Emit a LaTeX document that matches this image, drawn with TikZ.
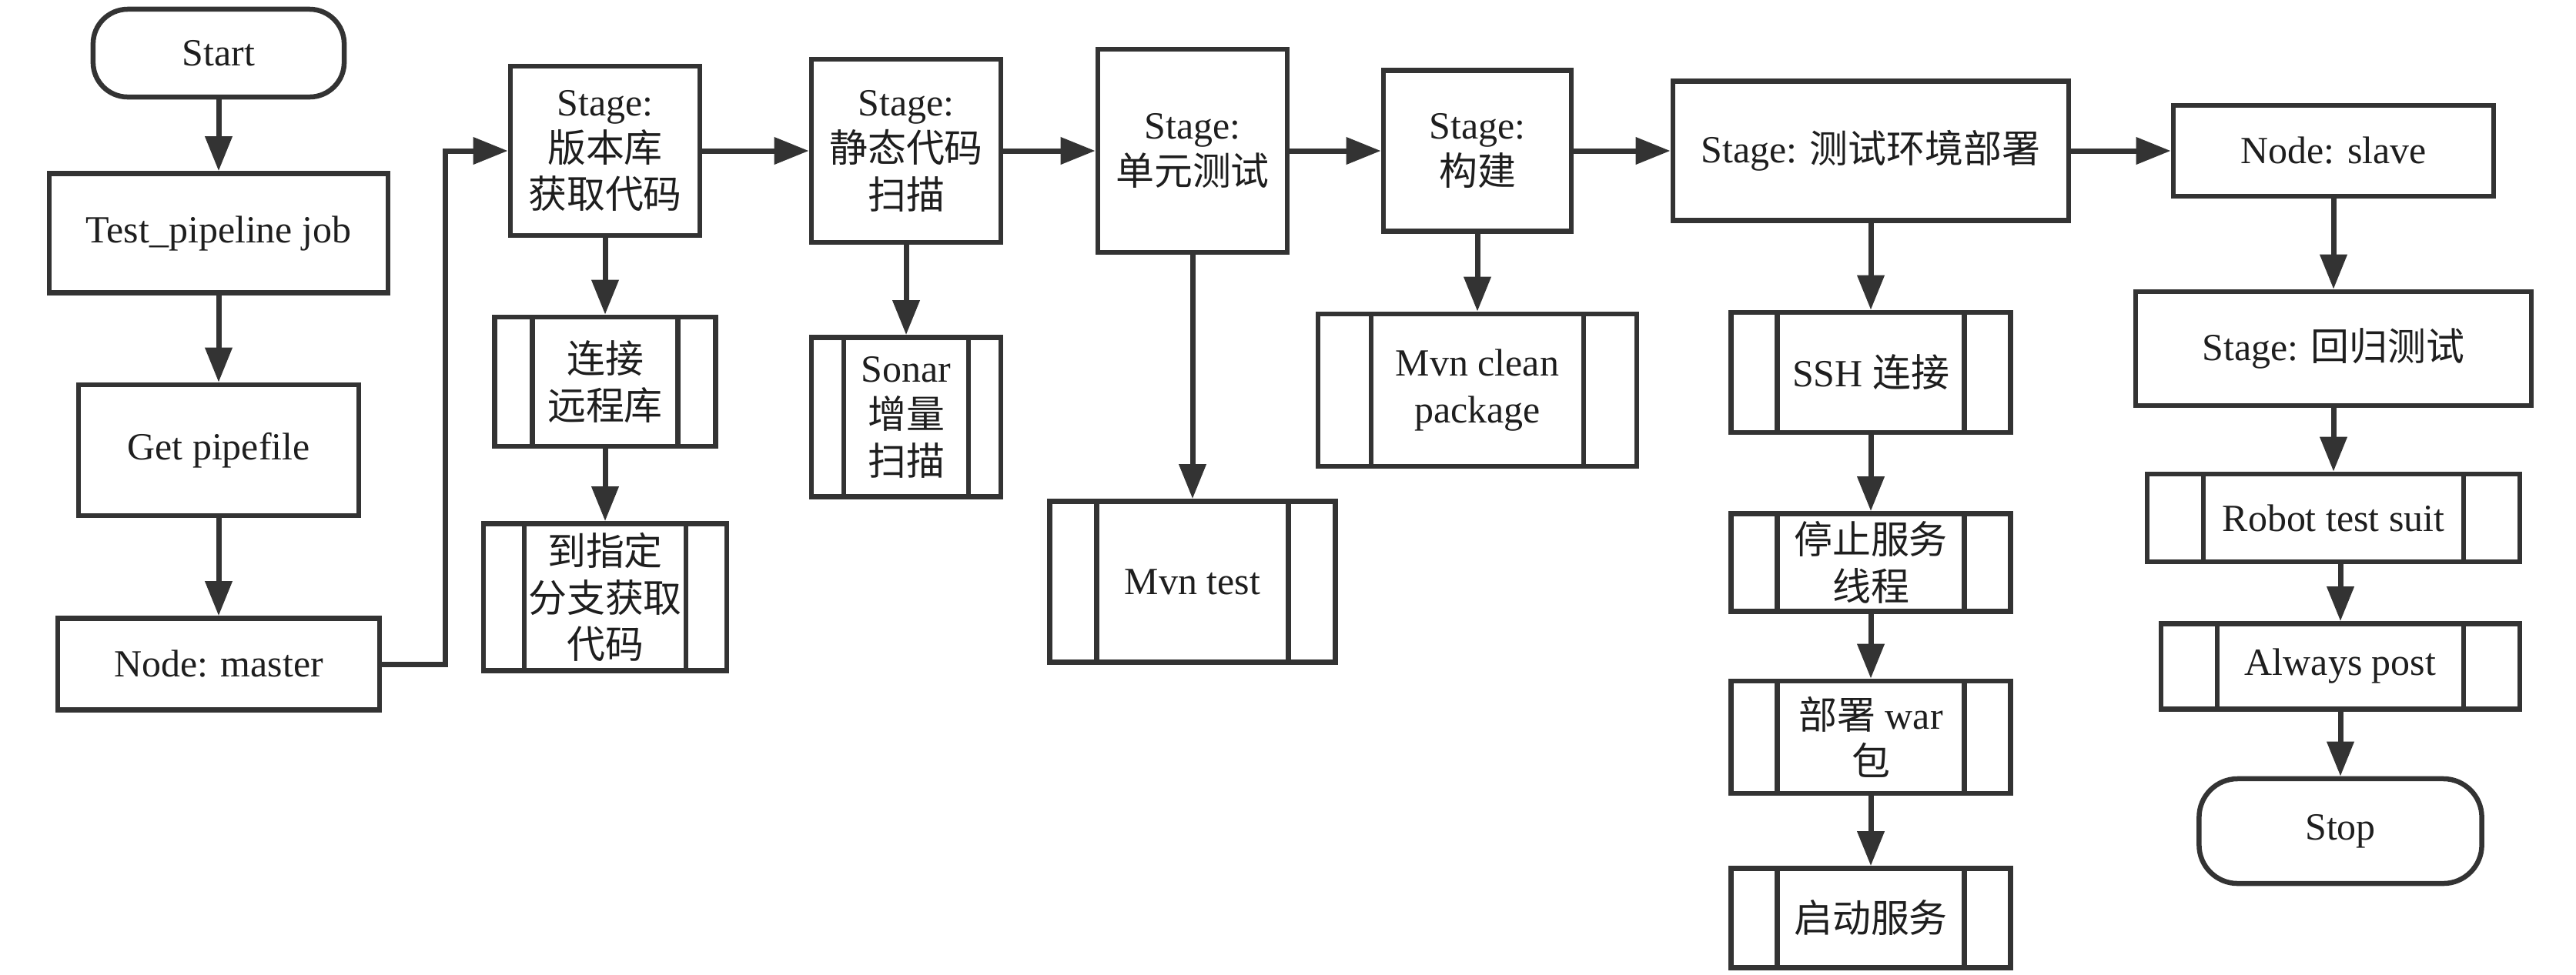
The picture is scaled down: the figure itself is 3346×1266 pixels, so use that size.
\documentclass[tikz,border=0pt]{standalone}
\usepackage{fontspec}
\setmainfont{Liberation Serif}
\newfontfamily\cjk{Noto Sans CJK SC}
\newcommand\zhs[1]{{\cjk #1}}
\usetikzlibrary{arrows.meta}
\definecolor{ln}{HTML}{333333}
\definecolor{tx}{HTML}{1E1E1E}
\begin{document}
\begin{tikzpicture}[x=0.01cm,y=-0.01cm,
  box/.style={draw=ln, line width=0.065cm, fill=white, align=center, inner sep=0pt, text=tx, font=\fontsize{14.2pt}{17.2pt}\selectfont},
  term/.style={box, rounded corners=0.45cm},
  subproc/.style={box, path picture={\draw[ln, line width=0.065cm] ([xshift=#1]path picture bounding box.north west) -- ([xshift=#1]path picture bounding box.south west) ([xshift=-#1]path picture bounding box.north east) -- ([xshift=-#1]path picture bounding box.south east);}},
  arr/.style={draw=ln, line width=0.07cm, -{Triangle[length=0.45cm,width=0.34cm]}}
]
\useasboundingbox (0,0) rectangle (3346,1266);

% left column
\node[term, minimum width=3.26cm, minimum height=1.14cm] (start) at (284,69) {Start};
\node[box, minimum width=4.4cm, minimum height=1.55cm] (test) at (284,303) {Test\_pipeline job};
\node[box, minimum width=3.64cm, minimum height=1.7cm] (get) at (284,585) {Get pipefile};
\node[box, minimum width=4.18cm, minimum height=1.19cm] (master) at (284,863) {Node: master};

% stage 1
\node[box, minimum width=2.46cm, minimum height=2.2cm] (s1) at (786,196) {Stage:\\\zhs{版本库}\\\zhs{获取代码}};
\node[subproc=0.49cm, minimum width=2.87cm, minimum height=1.68cm] (c1) at (786,496) {\zhs{连接}\\\zhs{远程库}};
\node[subproc=0.53cm, minimum width=3.16cm, minimum height=1.91cm] (c2) at (786,776) {\zhs{到指定}\\\zhs{分支获取}\\\zhs{代码}};

% stage 2
\node[box, minimum width=2.46cm, minimum height=2.38cm] (s2) at (1177,196) {Stage:\\\zhs{静态代码}\\\zhs{扫描}};
\node[subproc=0.42cm, minimum width=2.46cm, minimum height=2.07cm] (sonar) at (1177,542) {Sonar\\\zhs{增量}\\\zhs{扫描}};

% stage 3
\node[box, minimum width=2.46cm, minimum height=2.64cm] (s3) at (1549,196) {Stage:\\\zhs{单元测试}};
\node[subproc=0.61cm, minimum width=3.71cm, minimum height=2.09cm] (mvntest) at (1549,756) {Mvn test};

% stage 4
\node[box, minimum width=2.44cm, minimum height=2.09cm] (s4) at (1919,196) {Stage:\\\zhs{构建}};
\node[subproc=0.69cm, minimum width=4.14cm, minimum height=1.98cm] (mvnclean) at (1919,507) {Mvn clean\\package};

% stage 5
\node[box, minimum width=5.14cm, minimum height=1.81cm] (s5) at (2430,196) {Stage: \zhs{测试环境部署}};
\node[subproc=0.6cm, minimum width=3.63cm, minimum height=1.56cm] (ssh) at (2430,484) {SSH \zhs{连接}};
\node[subproc=0.6cm, minimum width=3.63cm, minimum height=1.27cm] (stopsvc) at (2430,731) {\zhs{停止服务}\\\zhs{线程}};
\node[subproc=0.6cm, minimum width=3.63cm, minimum height=1.46cm] (deploy) at (2430,958) {\zhs{部署} war\\\zhs{包}};
\node[subproc=0.6cm, minimum width=3.63cm, minimum height=1.29cm] (startsvc) at (2430,1193) {\zhs{启动服务}};

% slave column
\node[box, minimum width=4.16cm, minimum height=1.18cm] (slave) at (3031,196) {Node: slave};
\node[box, minimum width=5.14cm, minimum height=1.48cm] (reg) at (3031,453) {Stage: \zhs{回归测试}};
\node[subproc=0.73cm, minimum width=4.84cm, minimum height=1.14cm] (robot) at (3031,673) {Robot test suit};
\node[subproc=0.73cm, minimum width=4.66cm, minimum height=1.11cm] (always) at (3040,866) {Always post};
\node[term, rounded corners=0.5cm, minimum width=3.67cm, minimum height=1.36cm] (stop) at (3040,1080) {Stop};

\coordinate (m1) at (578,863);

% connectors
\draw[arr] (start) -- (test);
\draw[arr] (test) -- (get);
\draw[arr] (get) -- (master);
\draw[arr] (master.east) -- (m1) |- (s1.west);
\draw[arr] (s1) -- (c1);
\draw[arr] (c1) -- (c2);
\draw[arr] (s1) -- (s2);
\draw[arr] (s2) -- (sonar);
\draw[arr] (s2) -- (s3);
\draw[arr] (s3) -- (mvntest);
\draw[arr] (s3) -- (s4);
\draw[arr] (s4) -- (mvnclean);
\draw[arr] (s4) -- (s5);
\draw[arr] (s5) -- (ssh);
\draw[arr] (ssh) -- (stopsvc);
\draw[arr] (stopsvc) -- (deploy);
\draw[arr] (deploy) -- (startsvc);
\draw[arr] (s5) -- (slave);
\draw[arr] (slave) -- (reg);
\draw[arr] (reg) -- (robot);
\draw[arr] (robot.south -| always.north) -- (always.north);
\draw[arr] (always) -- (stop);
\end{tikzpicture}
\end{document}
